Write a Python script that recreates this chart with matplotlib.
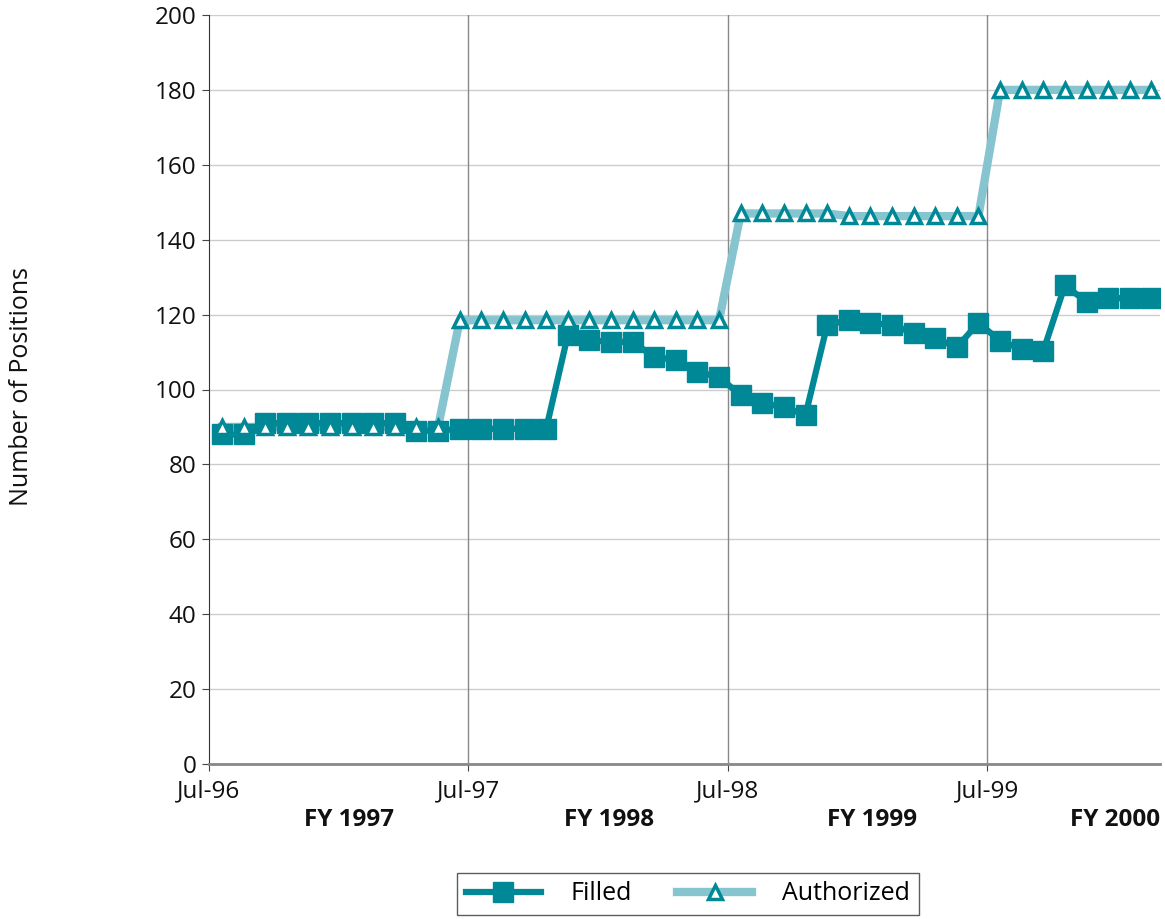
import matplotlib.pyplot as plt
import numpy as np
from matplotlib.lines import Line2D
import matplotlib.transforms as mtransforms

# Monthly data, Jul-96 .. Feb-00
filled = [88, 88, 91, 91, 91, 91, 91, 91, 91, 89, 89,
          89.5, 89.5, 89.5, 89.5, 89.5,
          114.5, 113.2, 112.7, 112.7, 108.7, 107.9, 104.7, 103.3,
          98.5, 96.4, 95.3, 93.2,
          117.2, 118.6, 117.8, 117.2, 115.1, 113.7, 111.3, 117.8,
          113, 110.8, 110.3, 127.8, 123.4, 124.4, 124.4, 124.4]
authorized = [90] * 11 + [118.5] * 13 + [147] * 5 + [146.3] * 7 + [180] * 8

tick_labels = ['Jul-96', 'Jul-97', 'Jul-98', 'Jul-99']
fy_labels = ['FY 1997', 'FY 1998', 'FY 1999', 'FY 2000']
fy_pos = [6.5, 18.5, 30.7, 41.9]

dark = '#008896'
light = '#86C5CF'

plt.rcParams['font.family'] = ['Open Sans', 'DejaVu Sans']
fs = 17.5

fig = plt.figure(figsize=(11.65, 9.19), dpi=100)
ax = fig.add_axes([209 / 1165, 1 - 764 / 919, (1160 - 209) / 1165, (764 - 15) / 919])

x = np.arange(len(filled)) + 0.6

# authorized line under everything, its markers on top
ax.plot(x, authorized, color=light, linewidth=6, zorder=3)
ax.plot(x, filled, color=dark, linewidth=4.5, marker='s', markersize=14,
        zorder=4)
ax.plot(x, authorized, linestyle='none', marker='^', markersize=10,
        markerfacecolor='white', markeredgecolor=dark, markeredgewidth=2.5,
        zorder=5)

ax.set_xlim(0, 44)
ax.set_ylim(0, 200)
ax.set_yticks(np.arange(0, 201, 20))
ax.set_xticks([0, 12, 24, 36])
ax.set_xticklabels(tick_labels)
ax.tick_params(axis='both', labelsize=fs, colors='#444444', labelcolor='#111111')
ax.tick_params(axis='y', length=5, pad=4)
ax.tick_params(axis='x', length=5, pad=6)

ax.grid(axis='y', color='#cccccc', linewidth=1)
for xv in [12, 24, 36]:
    ax.axvline(xv, color='#888888', linewidth=1, zorder=1)
ax.set_axisbelow(True)

for side in ['top', 'right']:
    ax.spines[side].set_visible(False)
ax.spines['left'].set_color('#333333')
ax.spines['bottom'].set_color('#888888')
ax.spines['bottom'].set_linewidth(2)

trans = mtransforms.blended_transform_factory(ax.transData, ax.transAxes)
for pos, lab in zip(fy_pos, fy_labels):
    ax.text(pos, -0.075, lab, transform=trans, ha='center', va='center',
            fontsize=fs, fontweight='bold', color='#111111')

fig.text(22 / 1165, 1 - 387 / 919, 'Number of Positions', rotation=90,
         ha='center', va='center', fontsize=fs + 0.5, color='#111111')

handles = [
    Line2D([], [], color=dark, linewidth=4.5, marker='s', markersize=14),
    Line2D([], [], color=light, linewidth=6, marker='^', markersize=10,
           markerfacecolor='white', markeredgecolor=dark, markeredgewidth=2.5),
]
leg = fig.legend(handles, ['Filled', 'Authorized'], loc='center',
                 bbox_to_anchor=(688 / 1165, 1 - 894 / 919), ncol=2,
                 fontsize=18, frameon=True, fancybox=False, handlelength=3.0,
                 columnspacing=1.8, handletextpad=1.2, borderpad=0.35)
leg.get_frame().set_edgecolor('#333333')
leg.get_frame().set_linewidth(1)

fig.savefig('out.png', dpi=100)
